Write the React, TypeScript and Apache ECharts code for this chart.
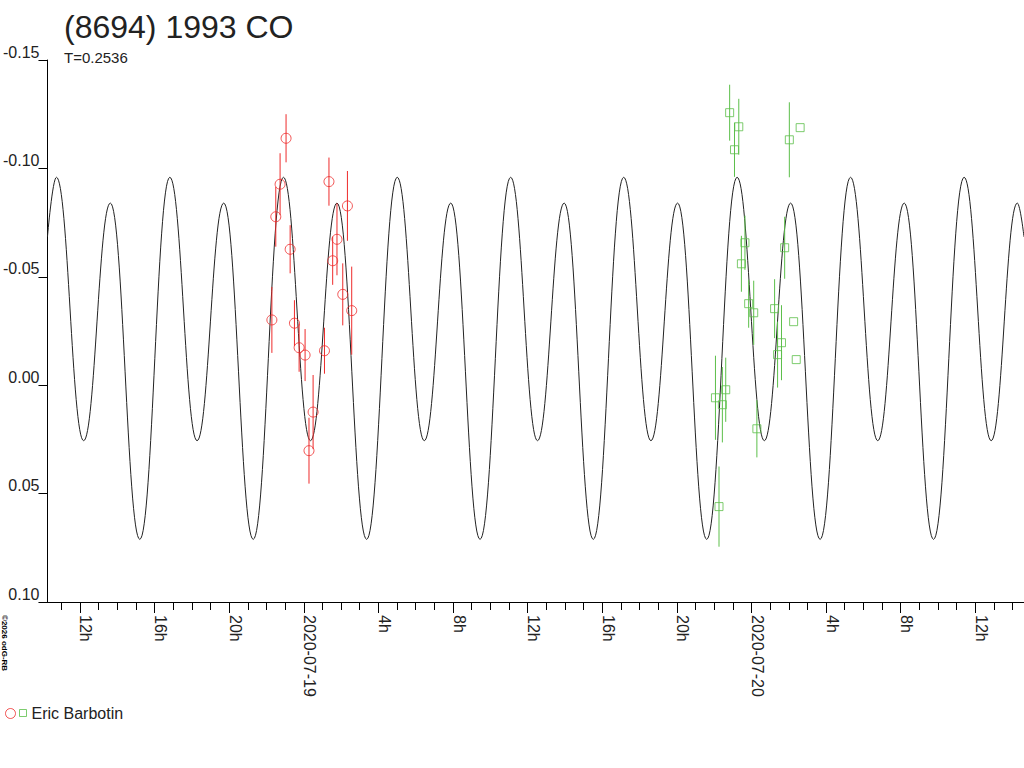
import React, { useEffect, useRef } from 'react';
import * as echarts from 'echarts';

const FONT = '"Liberation Sans", Arial, Helvetica, sans-serif';

const TITLE = '(8694) 1993 CO';
const SUBTITLE = 'T=0.2536';
const OBSERVER = 'Eric Barbotin';
const COPYRIGHT = '©2026 odG-RB';
const RED_NAME = 'Eric Barbotin 2020-07-19';
const GREEN_NAME = 'Eric Barbotin 2020-07-20';

const RED = '#ee2b2b';
const GREEN = '#5cbf4a';
const INK = '#222222';

// x values: hours relative to 2020-07-19 00:00
const X_MIN = -13.74;
const X_MAX = 38.61;

const majorTickHours = [-12, -8, -4, 0, 4, 8, 12, 16, 20, 24, 28, 32, 36];
const majorTickLabels = ['12h', '16h', '20h', '2020-07-19', '4h', '8h', '12h', '16h', '20h', '2020-07-20', '4h', '8h', '12h'];
const minorTickHours: number[] = [];
for (let h = Math.ceil(X_MIN); h <= Math.floor(X_MAX); h++) minorTickHours.push(h);

const Y_MIN = -0.15;
const Y_MAX = 0.1;
const Y_STEP = 0.05;

// model light curve, extrema
const curveHours = [
  -13.74, -13.26, -11.8, -10.37, -8.79, -7.18, -5.72, -4.29, -2.71, -1.09, 0.36, 1.78, 3.37,
  5.01, 6.46, 7.88, 9.45, 11.09, 12.53, 13.96, 15.52, 17.15, 18.61, 20.04, 21.6, 23.23, 24.69,
  26.1, 27.68, 29.31, 30.77, 32.19, 33.76, 35.4, 36.85, 38.25, 38.61,
];
const curveMags = [
  -0.0685,
  -0.0959, 0.0256, -0.084, 0.0711,
  -0.0959, 0.0256, -0.084, 0.0711,
  -0.0959, 0.0256, -0.084, 0.0711,
  -0.0959, 0.0256, -0.084, 0.0711,
  -0.0959, 0.0256, -0.084, 0.0711,
  -0.0959, 0.0256, -0.084, 0.0711,
  -0.0959, 0.0256, -0.084, 0.0711,
  -0.0959, 0.0256, -0.084, 0.0711,
  -0.0959, 0.0256, -0.084,
  -0.0684,
];

// session 1 (red circles)
const redHours = [-1.71, -1.5, -1.27, -0.95, -0.73, -0.5, -0.25, 0.07, 0.28, 0.5, 1.11, 1.35, 1.55, 1.78, 2.09, 2.34, 2.57];
const redMags = [-0.0301, -0.0777, -0.0927, -0.1139, -0.0627, -0.0286, -0.0173, -0.0139, 0.0302, 0.0124, -0.0159, -0.0939, -0.0574, -0.0673, -0.0419, -0.0827, -0.0344];
const redErrs = [0.0152, 0.0138, 0.0143, 0.0111, 0.0111, 0.0106, 0.0111, 0.012, 0.0152, 0.0171, 0.0106, 0.0111, 0.0111, 0.0166, 0.0143, 0.0161, 0.0203];

// session 2 (green squares)
const greenHours = [22.07, 22.26, 22.44, 22.62, 22.83, 23.09, 23.32, 23.46, 23.65, 23.85, 24.12, 24.29, 25.24, 25.4, 25.61, 25.78, 26.03, 26.26, 26.4, 26.61];
const greenMags = [0.0058, 0.056, 0.009, 0.0021, -0.1257, -0.1086, -0.1192, -0.056, -0.0657, -0.0376, -0.0334, 0.0201, -0.0353, -0.0141, -0.0196, -0.0634, -0.1132, -0.0293, -0.0118, -0.1188];
const greenErrs = [0.0194, 0.0185, 0.0174, 0.0148, 0.0129, 0.0125, 0.0129, 0.0129, 0.0125, 0.0111, 0.0148, 0.0132, 0.0136, 0.0152, 0.0173, 0.0143, 0.0173, 0, 0, 0];

function errorBarData(hours: number[], mags: number[], errs: number[]) {
  const out: number[][] = [];
  hours.forEach((h, i) => {
    if (errs[i] > 0) out.push([h, mags[i] - errs[i], mags[i] + errs[i]]);
  });
  return out;
}

function errorBarSeries(name: string, color: string, data: number[][]) {
  return {
    type: 'custom',
    name,
    silent: true,
    z: 3,
    encode: { x: 0, y: [1, 2] },
    data,
    renderItem: (params: any, api: any) => {
      const x = api.value(0);
      const p1 = api.coord([x, api.value(1)]);
      const p2 = api.coord([x, api.value(2)]);
      return {
        type: 'line',
        shape: { x1: p1[0], y1: p1[1], x2: p2[0], y2: p2[1] },
        style: { stroke: color, lineWidth: 1 },
      };
    },
  };
}

export default function App() {
  const ref = useRef<HTMLDivElement>(null);

  useEffect(() => {
    if (!ref.current) return;
    document.body.style.margin = '0';
    const chart = echarts.init(ref.current, null, { renderer: 'svg' });
    const axisLine = { color: '#000', width: 1 };

    const option: any = {
      animation: false,
      backgroundColor: '#ffffff',
      textStyle: { fontFamily: FONT },
      title: {
        text: TITLE,
        subtext: SUBTITLE,
        left: 64,
        top: 11,
        padding: 0,
        itemGap: 7,
        textStyle: { fontFamily: FONT, fontSize: 32, fontWeight: 'normal', color: INK },
        subtextStyle: { fontFamily: FONT, fontSize: 15, color: INK },
      },
      grid: { left: 45, right: 0, top: 60, bottom: 166, containLabel: false },
      xAxis: [
        {
          type: 'value',
          min: X_MIN,
          max: X_MAX,
          position: 'bottom',
          axisLine: { show: true, onZero: false, lineStyle: axisLine },
          axisTick: { show: true, length: 11, lineStyle: axisLine, customValues: majorTickHours },
          axisLabel: {
            customValues: majorTickHours,
            formatter: (v: number) => {
              const i = majorTickHours.indexOf(Math.round(v));
              return i >= 0 ? majorTickLabels[i] : '';
            },
            rotate: -90,
            verticalAlign: 'bottom',
            lineHeight: 12,
            margin: 13,
            fontSize: 16,
            color: INK,
            fontFamily: FONT,
          },
          splitLine: { show: false },
        },
        {
          type: 'value',
          min: X_MIN,
          max: X_MAX,
          position: 'bottom',
          axisLine: { show: false, onZero: false },
          axisTick: { show: true, length: 8, lineStyle: axisLine, customValues: minorTickHours },
          axisLabel: { show: false },
          splitLine: { show: false },
        },
      ],
      yAxis: {
        type: 'value',
        inverse: true,
        min: Y_MIN,
        max: Y_MAX,
        interval: Y_STEP,
        axisLine: { show: true, onZero: false, lineStyle: axisLine },
        axisTick: { show: true, length: 9, lineStyle: axisLine },
        axisLabel: {
          formatter: (v: number) => (Math.abs(v) < 1e-9 ? 0 : v).toFixed(2),
          fontSize: 16,
          margin: 8,
          verticalAlign: 'bottom',
          color: INK,
          fontFamily: FONT,
        },
        splitLine: { show: false },
      },
      legend: [
        {
          data: [
            {
              name: RED_NAME,
              icon: 'circle',
              itemStyle: { color: 'rgba(0,0,0,0)', borderColor: RED, borderWidth: 1 },
            },
          ],
          left: 5,
          top: 708,
          padding: 0,
          itemWidth: 10,
          itemHeight: 10,
          formatter: () => '',
          textStyle: { fontSize: 10 },
        },
        {
          data: [
            {
              name: GREEN_NAME,
              icon: 'rect',
              itemStyle: { color: 'rgba(0,0,0,0)', borderColor: GREEN, borderWidth: 1 },
            },
          ],
          left: 19,
          top: 705,
          padding: 0,
          itemWidth: 7,
          itemHeight: 7,
          formatter: () => OBSERVER,
          textStyle: { fontSize: 16, color: INK, fontFamily: FONT },
        },
      ],
      graphic: [
        {
          type: 'text',
          x: 0,
          y: 615,
          rotation: -Math.PI / 2,
          style: {
            text: COPYRIGHT,
            fontSize: 8,
            fontWeight: 'bold',
            fontFamily: FONT,
            fill: '#000',
            align: 'left',
            verticalAlign: 'bottom',
            textAlign: 'left',
            textVerticalAlign: 'bottom',
          },
        },
      ],
      series: [
        {
          type: 'line',
          name: 'model',
          data: curveHours.map((h, i) => [h, curveMags[i]]),
          showSymbol: false,
          smooth: 0.42,
          smoothMonotone: 'x',
          lineStyle: { color: INK, width: 1 },
          silent: true,
          z: 2,
        },
        errorBarSeries(RED_NAME + ' err', RED, errorBarData(redHours, redMags, redErrs)),
        errorBarSeries(GREEN_NAME + ' err', GREEN, errorBarData(greenHours, greenMags, greenErrs)),
        {
          type: 'scatter',
          name: RED_NAME,
          symbol: 'circle',
          symbolSize: 10,
          itemStyle: { color: 'rgba(0,0,0,0)', borderColor: RED, borderWidth: 1 },
          data: redHours.map((h, i) => [h, redMags[i]]),
          z: 4,
        },
        {
          type: 'scatter',
          name: GREEN_NAME,
          symbol: 'rect',
          symbolSize: 8,
          itemStyle: { color: 'rgba(0,0,0,0)', borderColor: GREEN, borderWidth: 1 },
          data: greenHours.map((h, i) => [h, greenMags[i]]),
          z: 4,
        },
      ],
    };

    chart.setOption(option);
    return () => {
      chart.dispose();
    };
  }, []);

  return (
    <div
      ref={ref}
      style={{ position: 'absolute', left: 0, top: 0, width: 1024, height: 768, background: '#fff' }}
    />
  );
}
